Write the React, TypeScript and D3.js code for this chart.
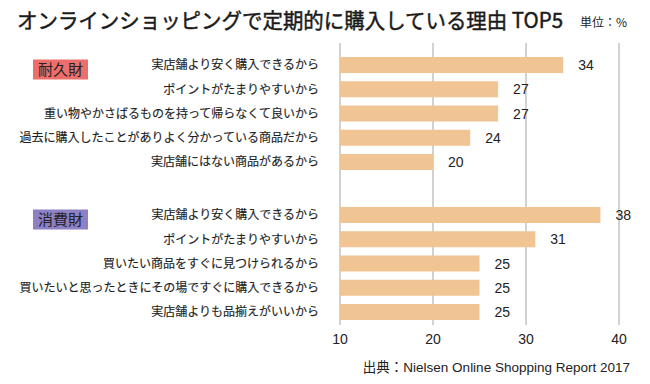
import { useEffect, useRef } from "react";
import * as d3 from "d3";

const titleText = "オンラインショッピングで定期的に購入している理由 TOP5";
const unitText = "単位：%";
const sourceText = "出典：Nielsen Online Shopping Report 2017";

const durableLabel = "耐久財";
const durableReasons = [
  "実店舗より安く購入できるから",
  "ポイントがたまりやすいから",
  "重い物やかさばるものを持って帰らなくて良いから",
  "過去に購入したことがありよく分かっている商品だから",
  "実店舗にはない商品があるから",
];
const durableValues = [34, 27, 27, 24, 20];

const consumableLabel = "消費財";
const consumableReasons = [
  "実店舗より安く購入できるから",
  "ポイントがたまりやすいから",
  "買いたい商品をすぐに見つけられるから",
  "買いたいと思ったときにその場ですぐに購入できるから",
  "実店舗よりも品揃えがいいから",
];
const consumableValues = [38, 31, 25, 25, 25];

const xTicks = [10, 20, 30, 40];

const JP = "'Noto Sans CJK JP', 'Noto Sans', sans-serif";
const NUM = "'Liberation Sans', 'Noto Sans CJK JP', sans-serif";

export default function App() {
  const ref = useRef<SVGSVGElement | null>(null);

  useEffect(() => {
    if (!ref.current) return;
    const svg = d3.select(ref.current);
    svg.selectAll("*").remove();

    const x = d3.scaleLinear().domain([10, 40]).range([340, 619]);
    const barH = 16;

    // grid
    svg
      .append("g")
      .selectAll("line")
      .data(xTicks)
      .enter()
      .append("line")
      .attr("x1", (d) => x(d))
      .attr("x2", (d) => x(d))
      .attr("y1", 43)
      .attr("y2", 325)
      .attr("stroke", "#b4b4b4")
      .attr("stroke-width", 1.2);

    // tick labels
    svg
      .append("g")
      .selectAll("text")
      .data(xTicks)
      .enter()
      .append("text")
      .attr("x", (d) => x(d))
      .attr("y", 344)
      .attr("text-anchor", "middle")
      .style("font-family", NUM)
      .style("font-size", "14px")
      .attr("fill", "#222")
      .text((d) => String(d));

    const groups = [
      { label: durableLabel, reasons: durableReasons, values: durableValues, range: [65, 162], color: "#ee6e6c" },
      { label: consumableLabel, reasons: consumableReasons, values: consumableValues, range: [215, 312], color: "#8d80c4" },
    ];

    groups.forEach((grp, gi) => {
      const keys = grp.reasons.map((_, i) => `${gi}-${i}`);
      const y = d3.scalePoint<string>().domain(keys).range(grp.range as [number, number]);
      const rows = keys.map((k, i) => ({ key: k, reason: grp.reasons[i], value: grp.values[i] }));
      const g = svg.append("g");

      g.selectAll("rect.bar")
        .data(rows)
        .enter()
        .append("rect")
        .attr("class", "bar")
        .attr("x", x(10))
        .attr("y", (d) => (y(d.key) as number) - barH / 2)
        .attr("width", (d) => x(d.value) - x(10))
        .attr("height", barH)
        .attr("fill", "#f1c493");

      g.selectAll("text.val")
        .data(rows)
        .enter()
        .append("text")
        .attr("class", "val")
        .attr("x", (d) => x(d.value) + 15)
        .attr("y", (d) => (y(d.key) as number) + 5)
        .style("font-family", NUM)
        .style("font-size", "14px")
        .attr("fill", "#222")
        .text((d) => String(d.value));

      g.selectAll("text.cat")
        .data(rows)
        .enter()
        .append("text")
        .attr("class", "cat")
        .attr("x", 319)
        .attr("y", (d) => (y(d.key) as number) + 4.3)
        .attr("text-anchor", "end")
        .style("font-family", JP)
        .style("font-size", "12px")
        .attr("fill", "#1e1e1e")
        .attr("stroke", "#1e1e1e")
        .attr("stroke-width", 0.15)
        .text((d) => d.reason);

      // group tag
      const cy = (y(keys[0]) as number) + 4.5;
      g.append("rect")
        .attr("x", 33)
        .attr("y", cy - 10)
        .attr("width", 55)
        .attr("height", 20)
        .attr("fill", grp.color);
      g.append("text")
        .attr("x", 60.5)
        .attr("y", cy + 5.5)
        .attr("text-anchor", "middle")
        .style("font-family", JP)
        .style("font-size", "15px")
        .attr("fill", "#222")
        .text(grp.label);
    });

    // title
    svg
      .append("text")
      .attr("x", 17)
      .attr("y", 28)
      .attr("textLength", 546)
      .attr("lengthAdjust", "spacingAndGlyphs")
      .style("font-family", JP)
      .style("font-size", "21px")
      .style("font-weight", 400)
      .attr("fill", "#1a1a1a")
      .attr("stroke", "#1a1a1a")
      .attr("stroke-width", 0.45)
      .text(titleText);

    svg
      .append("text")
      .attr("x", 580)
      .attr("y", 27)
      .style("font-family", JP)
      .style("font-size", "12px")
      .attr("fill", "#222")
      .text(unitText);

    svg
      .append("text")
      .attr("x", 630)
      .attr("y", 372)
      .attr("text-anchor", "end")
      .style("font-family", NUM)
      .style("font-size", "13.5px")
      .attr("fill", "#222")
      .text(sourceText);
  }, []);

  return (
    <svg
      ref={ref}
      width={650}
      height={384}
      style={{ position: "absolute", left: 0, top: 0, background: "#fff" }}
    />
  );
}
